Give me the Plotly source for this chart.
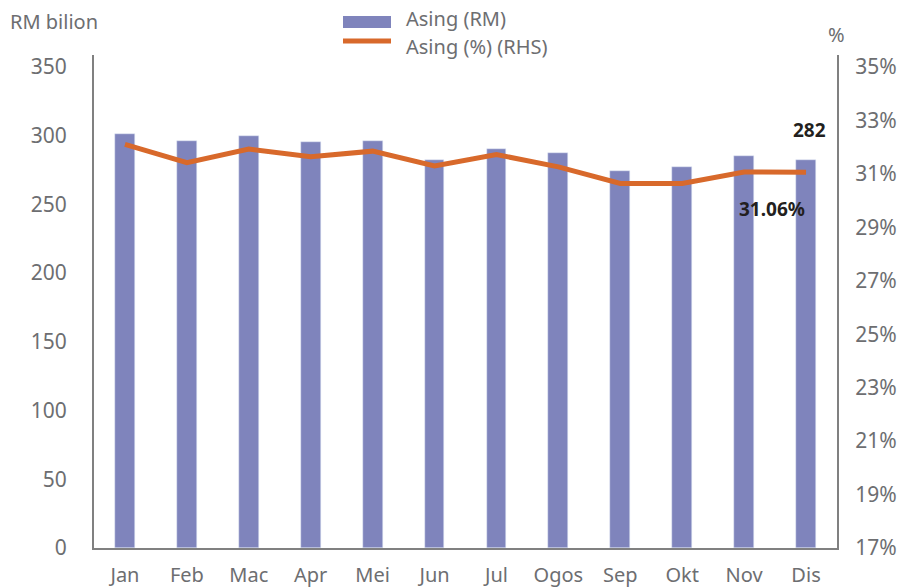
import plotly.graph_objects as go

months = ["Jan", "Feb", "Mac", "Apr", "Mei", "Jun", "Jul", "Ogos", "Sep", "Okt", "Nov", "Dis"]
asing_rm = [301, 296, 300, 295.5, 296, 282, 290, 287.5, 274, 277, 285, 282]
asing_pct = [32.1, 31.42, 31.93, 31.64, 31.85, 31.3, 31.72, 31.26, 30.64, 30.64, 31.07, 31.06]
left_ticks = [0, 50, 100, 150, 200, 250, 300, 350]
right_ticks = [17, 19, 21, 23, 25, 27, 29, 31, 33, 35]
right_tick_text = [f"{v}%" for v in right_ticks]

BAR_COLOR = "#7F84BC"
LINE_COLOR = "#D8692B"
GRAY = "#6D6E71"
AXIS_GRAY = "#808080"
FONT = "Noto Sans"

fig = go.Figure()
fig.add_trace(go.Bar(x=months, y=asing_rm, name="Asing (RM)", marker_color=BAR_COLOR,
                     width=0.32, yaxis="y", showlegend=False))
fig.add_trace(go.Scatter(x=months, y=asing_pct, name="Asing (%) (RHS)", mode="lines",
                         line=dict(color=LINE_COLOR, width=5), yaxis="y2", showlegend=False))

left_max = 358.7
right_min = 17
right_max = right_min + 18 * left_max / 350

fig.update_layout(
    width=900, height=588,
    margin=dict(l=94, r=63, t=55, b=40, autoexpand=False),
    paper_bgcolor="white", plot_bgcolor="white",
    font=dict(family=FONT, size=20, color=GRAY),
    xaxis=dict(showgrid=False, showline=True, linecolor=AXIS_GRAY, linewidth=2,
               ticks="", tickfont=dict(size=20, color=GRAY), ticklabelstandoff=8,
               automargin=False),
    yaxis=dict(range=[0, left_max], tickvals=left_ticks, showgrid=False, zeroline=False,
               showline=True, linecolor=AXIS_GRAY, linewidth=2, ticks="",
               tickfont=dict(size=21, color=GRAY), ticklabelstandoff=21,
               automargin=False),
    yaxis2=dict(range=[right_min, right_max], tickvals=right_ticks, ticktext=right_tick_text,
                overlaying="y", side="right", showgrid=False, zeroline=False,
                showline=True, linecolor=AXIS_GRAY, linewidth=2, ticks="",
                tickfont=dict(size=21, color=GRAY), ticklabelstandoff=12,
                automargin=False),
    showlegend=False,
    bargap=0,
)

# Custom legend (symbol shapes + text)
fig.add_shape(type="rect", xref="paper", yref="paper",
              x0=(343 - 94) / 743, x1=(391 - 94) / 743,
              y0=(548 - 28) / 493, y1=(548 - 16) / 493,
              fillcolor=BAR_COLOR, line_width=0)
fig.add_shape(type="line", xref="paper", yref="paper",
              x0=(343 - 94) / 743, x1=(391 - 94) / 743,
              y0=(548 - 41) / 493, y1=(548 - 41) / 493,
              line=dict(color=LINE_COLOR, width=5))
fig.add_annotation(text="Asing (RM)", xref="paper", yref="paper",
                   x=(404 - 94) / 743, y=(548 - 19) / 493, xanchor="left", yanchor="middle",
                   showarrow=False, font=dict(size=20, color=GRAY))
fig.add_annotation(text="Asing (%) (RHS)", xref="paper", yref="paper",
                   x=(404 - 94) / 743, y=(548 - 46) / 493, xanchor="left", yanchor="middle",
                   showarrow=False, font=dict(size=20, color=GRAY))

# Axis titles
fig.add_annotation(text="RM bilion", xref="paper", yref="paper",
                   x=(8 - 94) / 743, y=(548 - 22) / 493, xanchor="left", yanchor="middle",
                   showarrow=False, font=dict(size=20, color=GRAY))
fig.add_annotation(text="%", xref="paper", yref="paper",
                   x=(836 - 94) / 743, y=(548 - 35) / 493, xanchor="center", yanchor="middle",
                   showarrow=False, font=dict(size=20, color=GRAY))

# Data labels
fig.add_annotation(text="<b>282</b>", x=months[-1], y=asing_rm[-1], xref="x", yref="y",
                   yanchor="bottom", xshift=3, yshift=15, showarrow=False,
                   font=dict(size=19, color="#231F20"))
fig.add_annotation(text="<b>31.06%</b>", x=months[-1], y=asing_pct[-1], xref="x", yref="y2",
                   yanchor="middle", xshift=-34, yshift=-37, showarrow=False,
                   font=dict(size=19, color="#231F20"))

fig.write_html("out.html", config={"displayModeBar": False},
               post_script="document.body.style.margin='0';document.body.style.overflow='hidden';")
